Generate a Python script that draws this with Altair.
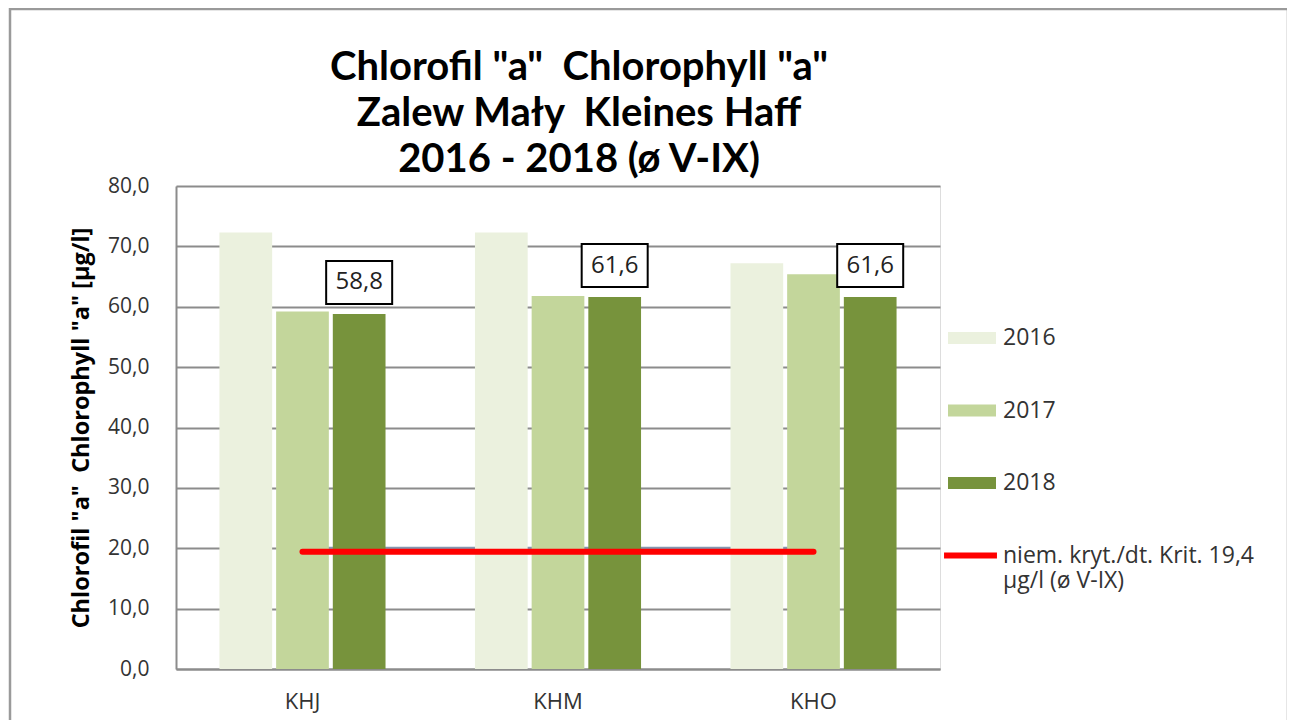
import altair as alt
import pandas as pd

stations = ["KHJ", "KHM", "KHO"]
years = ["2016", "2017", "2018"]
v2016 = [72.3, 72.3, 67.2]
v2017 = [59.2, 61.8, 65.4]
v2018 = [58.8, 61.6, 61.6]
crit_de = [19.4, 19.4, 19.4]
ref_line = [20.0, 20.0, 20.0]
crit_label = "niem. kryt./dt. Krit. 19,4 µg/l (ø V-IX)"
year_colors = ["#ebf1de", "#c3d69b", "#77933c"]
NB = "\u00a0"

rows = []
for y, vals in zip(years, [v2016, v2017, v2018]):
    for s, v in zip(stations, vals):
        rows.append({"station": s, "year": y, "value": v})
bars_df = pd.DataFrame(rows)
labels_df = bars_df[bars_df["year"] == "2018"].copy()
crit_df = pd.DataFrame({"station": stations, "value": crit_de, "series": [crit_label] * 3})
ref_df = pd.DataFrame({"station": stations, "value": ref_line})

FONT = "Open Sans"
TXT = "#333333"

x_enc = alt.X("station:N", sort=stations, title=None,
              scale=alt.Scale(paddingInner=0.35, paddingOuter=0.17),
              axis=alt.Axis(labelAngle=0, labelFontSize=22, labelFont=FONT, labelColor=TXT,
                            ticks=False, tickSize=0, labelPadding=22, domainColor="#8c8c8c",
                            domainWidth=2, grid=False))
y_enc = alt.Y("value:Q", scale=alt.Scale(domain=[0, 80], nice=False),
              title=f'Chlorofil "a"{NB} Chlorophyll "a" [µg/l]',
              axis=alt.Axis(values=[0, 10, 20, 30, 40, 50, 60, 70, 80],
                            labelExpr="replace(format(datum.value, '.1f'), '.', ',')",
                            labelFontSize=21, labelFont=FONT, labelColor=TXT,
                            ticks=False, tickSize=0, labelPadding=27,
                            domainColor="#8c8c8c", domainWidth=2,
                            gridColor="#8c8c8c", gridWidth=1.8,
                            titleFont=FONT, titleFontSize=23.5, titleFontWeight="bold",
                            titleColor="#000000", titlePadding=14))
xoff = alt.XOffset("year:N", sort=years, scale=alt.Scale(paddingInner=0.07))

frame = alt.Chart(alt.Data(values=[{"f": 1}])).mark_rect(
    filled=False, stroke="#9a9a9a", strokeWidth=2.5
).encode(x=alt.value(-166), x2=alt.value(1112), y=alt.value(-177), y2=alt.value(560))

ref = alt.Chart(ref_df).mark_line(color="#8497b0", strokeWidth=3).encode(
    x=x_enc, y=y_enc)

bars = alt.Chart(bars_df).mark_bar().encode(
    x=x_enc, y=y_enc, xOffset=xoff,
    fill=alt.Fill("year:N", sort=years,
                  scale=alt.Scale(domain=years, range=year_colors),
                  legend=alt.Legend(title=None, orient="none", legendX=784, legendY=140,
                                    symbolType="M-2,-0.5H2V0.5H-2Z", symbolSize=576,
                                    symbolStrokeWidth=0, labelOffset=19, rowPadding=48.5,
                                    labelFontSize=23, labelFont=FONT, labelColor=TXT)))

crit = alt.Chart(crit_df).mark_line(strokeWidth=6, strokeCap="round").encode(
    x=x_enc, y=y_enc,
    stroke=alt.Stroke("series:N", scale=alt.Scale(domain=[crit_label], range=["#ff0000"]),
                      legend=alt.Legend(title=None, orient="none", legendX=765, legendY=340,
                                        symbolType="stroke", symbolSize=2800,
                                        symbolStrokeWidth=6, labelOffset=3,
                                        labelFontSize=23, labelFont=FONT, labelColor=TXT,
                                        labelLimit=400,
                                        labelExpr="['niem. kryt./dt. Krit. 19,4', 'µg/l (ø V-IX)']")))

boxes = alt.Chart(labels_df).mark_point(
    shape="M-1.535,-2.465H1.535V-0.465H-1.535Z", size=1849, filled=True,
    fill="white", stroke="black", strokeWidth=2, opacity=1
).encode(x=x_enc, y=y_enc, xOffset=xoff)

texts = alt.Chart(labels_df).mark_text(
    dy=-31.5, baseline="middle", fontSize=24, font=FONT, color="#222222"
).encode(x=x_enc, y=y_enc, xOffset=xoff,
         text=alt.Text("label:N")).transform_calculate(
    label="replace(format(datum.value, '.1f'), '.', ',')")

chart = alt.layer(frame, ref, bars, crit, boxes, texts).properties(
    width=764, height=483,
    padding={"left": 168, "top": 178, "right": 347, "bottom": 51},
    autosize=alt.AutoSizeParams(type="none"),
    title=alt.TitleParams(
        text=[f'Chlorofil "a"{NB}{NB}Chlorophyll "a"', f"Zalew Mały{NB}{NB}Kleines Haff",
              "2016 - 2018 (ø V-IX)"],
        fontSize=40, font="Lato", fontWeight="bold", color="#000000",
        lineHeight=46, anchor="middle", frame="group", dx=21, dy=184, offset=12),
).configure_view(stroke=None).configure(background="white")

chart.save("out.html", embed_options={"renderer": "svg", "actions": False})
